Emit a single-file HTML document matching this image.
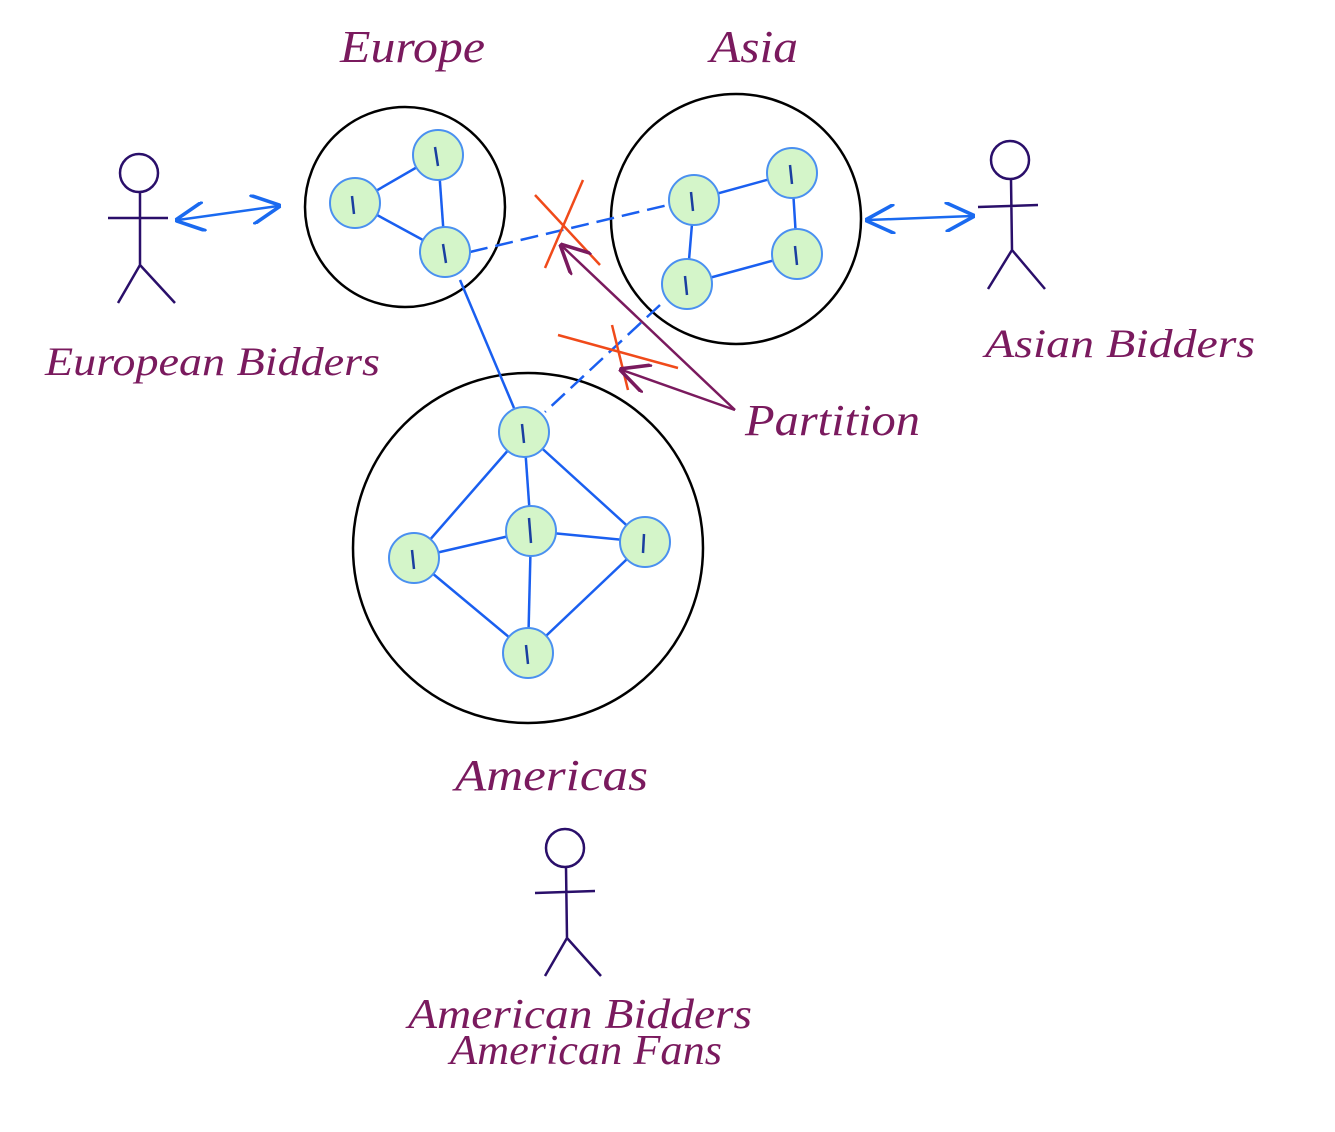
<!DOCTYPE html>
<html><head><meta charset="utf-8"><style>
html,body{margin:0;padding:0;background:#fff;}
svg{display:block;}
text{font-family:"Liberation Serif",serif;font-style:italic;fill:#7a1a5e;}
</style></head><body>
<svg width="1335" height="1132" viewBox="0 0 1335 1132" xmlns="http://www.w3.org/2000/svg">
<defs>
<marker id="ab" viewBox="0 0 10 10" refX="9" refY="5" markerWidth="12" markerHeight="12" orient="auto-start-reverse"><path d="M0,0 L10,5 L0,10" fill="none" stroke="#1a6af0" stroke-width="1.2"/></marker>
<marker id="ap" viewBox="0 0 10 10" refX="9" refY="5" markerWidth="12" markerHeight="12" orient="auto"><path d="M0,0 L10,5 L0,10" fill="none" stroke="#7a1a5e" stroke-width="1.2"/></marker>
</defs>
<g fill="none" stroke="#000" stroke-width="2.5">
<circle cx="405" cy="207" r="100"/>
<circle cx="736" cy="219" r="125"/>
<circle cx="528" cy="548" r="175"/>
</g>
<g stroke="#1a5ff0" stroke-width="2.5" fill="none">
<line x1="355" y1="203" x2="438" y2="155"/><line x1="438" y1="155" x2="445" y2="252"/><line x1="355" y1="203" x2="445" y2="252"/>
<line x1="460" y1="280" x2="514" y2="408"/>
<line x1="470" y1="252" x2="668" y2="205" stroke-dasharray="18,8"/>
<line x1="694" y1="200" x2="792" y2="173"/><line x1="792" y1="173" x2="797" y2="254"/><line x1="797" y1="254" x2="687" y2="284"/><line x1="694" y1="200" x2="687" y2="284"/>
<line x1="660" y1="305" x2="545" y2="412" stroke-dasharray="18,8"/>
<line x1="524" y1="432" x2="414" y2="558"/><line x1="524" y1="432" x2="531" y2="531"/><line x1="524" y1="432" x2="645" y2="542"/>
<line x1="414" y1="558" x2="531" y2="531"/><line x1="531" y1="531" x2="645" y2="542"/><line x1="414" y1="558" x2="528" y2="653"/><line x1="531" y1="531" x2="528" y2="653"/><line x1="645" y1="542" x2="528" y2="653"/>
</g>
<g fill="#d4f5c9" stroke="#4a90f0" stroke-width="2">
<circle cx="355" cy="203" r="25"/><circle cx="438" cy="155" r="25"/><circle cx="445" cy="252" r="25"/>
<circle cx="694" cy="200" r="25"/><circle cx="792" cy="173" r="25"/><circle cx="797" cy="254" r="25"/><circle cx="687" cy="284" r="25"/>
<circle cx="524" cy="432" r="25"/><circle cx="531" cy="531" r="25"/><circle cx="414" cy="558" r="25"/><circle cx="645" cy="542" r="25"/><circle cx="528" cy="653" r="25"/>
</g>
<g stroke="#1a3fa0" stroke-width="2.5" fill="none">
<path d="M352,196 L354,214 M435,147 L438,166 M443,244 L446,263 M691,192 L693,211 M790,165 L792,184 M795,246 L797,265 M685,276 L687,295 M522,424 L524,443 M529,518 L531,543 M412,550 L414,569 M644,534 L643,553 M526,645 L528,664"/>
</g>
<g stroke="#f04a1a" stroke-width="2.5">
<line x1="535" y1="195" x2="600" y2="265"/><line x1="583" y1="180" x2="545" y2="268"/>
<line x1="558" y1="335" x2="678" y2="368"/><line x1="612" y1="325" x2="628" y2="390"/>
</g>
<g stroke="#7a1a5e" stroke-width="2.5" fill="none">
<line x1="735" y1="410" x2="562" y2="246" marker-end="url(#ap)"/>
<line x1="735" y1="410" x2="622" y2="370" marker-end="url(#ap)"/>
</g>
<g stroke="#1a6af0" stroke-width="2.5">
<line x1="178" y1="220" x2="278" y2="206" marker-start="url(#ab)" marker-end="url(#ab)"/>
<line x1="868" y1="220" x2="972" y2="216" marker-start="url(#ab)" marker-end="url(#ab)"/>
</g>
<g stroke="#2a0f6a" stroke-width="2.5" fill="none">
<circle cx="139" cy="173" r="19"/><path d="M140,192 L140,265 M108,218 L168,218 M140,265 L118,303 M140,265 L175,303"/>
<circle cx="1010" cy="160" r="19"/><path d="M1011,179 L1012,250 M978,207 L1038,205 M1012,250 L988,289 M1012,250 L1045,289"/>
<circle cx="565" cy="848" r="19"/><path d="M566,867 L567,938 M535,893 L595,891 M567,938 L545,976 M567,938 L601,976"/>
</g>
<text x="340" y="62" font-size="46" textLength="145" lengthAdjust="spacingAndGlyphs">Europe</text>
<text x="710" y="62" font-size="46" textLength="88" lengthAdjust="spacingAndGlyphs">Asia</text>
<text x="45" y="375" font-size="40" textLength="335" lengthAdjust="spacingAndGlyphs">European Bidders</text>
<text x="985" y="357" font-size="40" textLength="270" lengthAdjust="spacingAndGlyphs">Asian Bidders</text>
<text x="745" y="435" font-size="44" textLength="175" lengthAdjust="spacingAndGlyphs">Partition</text>
<text x="455" y="790" font-size="44" textLength="193" lengthAdjust="spacingAndGlyphs">Americas</text>
<text x="408" y="1028" font-size="42" textLength="344" lengthAdjust="spacingAndGlyphs">American Bidders</text>
<text x="450" y="1064" font-size="42" textLength="272" lengthAdjust="spacingAndGlyphs">American Fans</text>
</svg>
</body></html>
